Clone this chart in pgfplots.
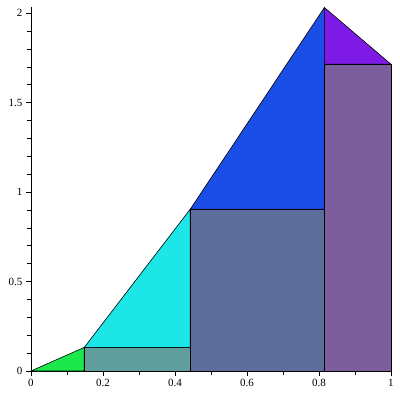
\documentclass[border=0pt]{standalone}
\usepackage{fontspec}
\setmainfont{Liberation Serif}
\usepackage{pgfplots}
\pgfplotsset{compat=1.18}
\definecolor{cg}{HTML}{1CE84C}
\definecolor{cr1}{HTML}{5F9E9A}
\definecolor{cc}{HTML}{1CE6E6}
\definecolor{cr2}{HTML}{5E6E9C}
\definecolor{cb}{HTML}{1A4EE6}
\definecolor{cr3}{HTML}{7C5E9C}
\definecolor{cp}{HTML}{7E1AE6}
\begin{document}
\begin{tikzpicture}
\useasboundingbox (-31pt,-29pt) rectangle (369pt,371pt);
\begin{axis}[
  scale only axis, width=360pt, height=364pt,
  xmin=0, xmax=1, ymin=0, ymax=2.035,
  axis lines*=left,
  axis line style={line width=0.8pt},
  tick align=outside,
  xtick={0,0.2,0.4,0.6,0.8,1},
  ytick={0,0.5,1,1.5,2},
  minor x tick num=1, minor y tick num=4,
  major tick length=5pt, minor tick length=4pt,
  tick style={black, line width=0.7pt},
  tick label style={font=\fontsize{11}{12}\selectfont},
  /pgf/number format/assume math mode=true,
  clip=false,
]
\addplot[fill=cg, draw=black, line width=0.6pt] coordinates {(0,0) (0.148,0.132) (0.148,0) (0,0)} --cycle;
\addplot[fill=cr1, draw=black, line width=0.6pt] coordinates {(0.148,0) (0.148,0.132) (0.4425,0.132) (0.4425,0)} --cycle;
\addplot[fill=cc, draw=black, line width=0.6pt] coordinates {(0.148,0.132) (0.4425,0.905) (0.4425,0.132)} --cycle;
\addplot[fill=cr2, draw=black, line width=0.6pt] coordinates {(0.4425,0) (0.4425,0.905) (0.815,0.905) (0.815,0)} --cycle;
\addplot[fill=cb, draw=black, line width=0.6pt] coordinates {(0.4425,0.905) (0.815,2.032) (0.815,0.905)} --cycle;
\addplot[fill=cr3, draw=black, line width=0.6pt] coordinates {(0.815,0) (0.815,1.715) (1,1.715) (1,0)} --cycle;
\addplot[fill=cp, draw=black, line width=0.6pt] coordinates {(0.815,1.715) (0.815,2.032) (1,1.715)} --cycle;
\end{axis}
\end{tikzpicture}
\end{document}
